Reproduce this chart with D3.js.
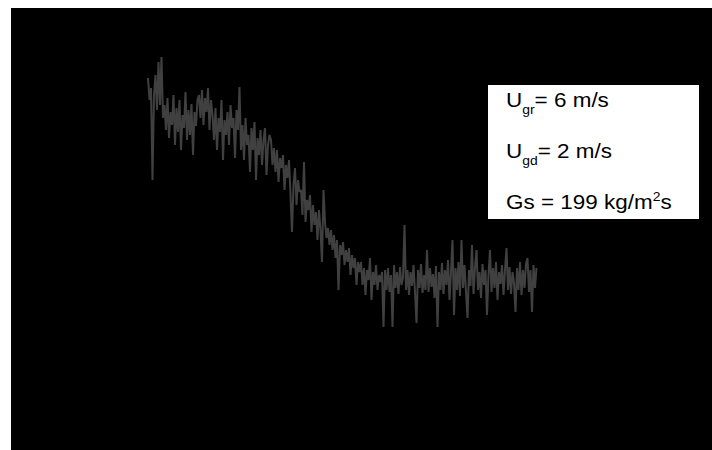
<!DOCTYPE html>
<html>
<head>
<meta charset="utf-8">
<script src="https://cdn.jsdelivr.net/npm/d3@7"></script>
<style>
  body { margin: 0; background: #fff; }
  text { font-family: "Liberation Sans", Arial, sans-serif; fill: #000; }
</style>
</head>
<body>
<script>
var w = 712;
var h = 450;

// signal (arbitrary units)
var signal = [
  352, 330, 342, 250, 335, 355, 320, 368, 325, 373, 312,
  325, 300, 332, 292, 318, 305, 335, 285, 322, 298, 330, 280, 315, 302, 338, 290, 320, 295, 326, 275, 318, 304, 330,
  335, 312, 340, 305, 332, 318, 342, 300, 330,
  315, 290, 322, 280, 312, 298, 330, 270, 310, 295, 318, 285, 325, 302, 312, 272, 320, 300, 343,
  280, 305, 270, 312, 285, 295, 258, 302, 280, 308, 250, 292, 275, 300, 265, 290, 302, 255, 285, 295,
  290, 265, 282, 258, 280, 248, 272, 262, 275, 240, 265, 252, 270, 235, 198, 245, 262, 225, 250, 238,
  240, 215, 268, 208, 230, 220, 235, 198, 225, 205, 218, 190, 220, 200, 168, 240, 208, 192, 202, 185,
  200, 180, 195, 172, 190, 140, 185, 175, 188, 165, 180, 168, 182, 155, 175, 162, 172, 145, 168, 158,
  168, 145, 162, 135, 160, 150, 172, 130, 158, 145, 165, 140, 155, 148,
  158, 103, 160, 140, 162, 138, 155, 103, 165, 142, 158, 136, 163, 145, 152, 205, 140, 160, 135, 158,
  144, 165, 138, 107, 160, 142, 166, 137, 155, 140, 180, 138, 162, 143, 156, 132, 164, 103, 158, 140,
  167, 136, 160, 145, 170, 130, 158, 190, 115, 162, 140, 168, 134, 190, 142, 165, 138, 112, 160, 144,
  185, 136, 162, 180, 140, 158, 132, 166, 145, 160, 115, 155, 180, 138, 162, 142, 168, 130, 158, 146,
  165, 135, 160, 182, 140, 163, 136, 158, 147, 118, 162, 140, 168, 135, 160, 142, 166, 172, 138, 160,
  118, 165, 142, 162
];

// text box lines
var labels = [
  { main: "U", sub: "gr", rest: "= 6 m/s" },
  { main: "U", sub: "gd", rest: "= 2 m/s" },
  { main: "Gs = 199 kg/m", sup: "2", rest: "s" }
];

var svg = d3.select("body").append("svg")
    .attr("width", w)
    .attr("height", h);

// black plot area
svg.append("rect")
    .attr("x", 11)
    .attr("y", 8)
    .attr("width", w - 11)
    .attr("height", h - 8)
    .attr("fill", "#000");

var x = d3.scaleLinear()
    .domain([0, signal.length - 1])
    .range([148, 536.5]);

var y = d3.scaleLinear()
    .domain([0, 400])
    .range([430, 30]);

var line = d3.line()
    .x(function(d, i) { return x(i); })
    .y(function(d) { return y(d); });

svg.append("path")
    .datum(signal)
    .attr("d", line)
    .attr("fill", "none")
    .attr("stroke", "#404040")
    .attr("stroke-width", 2)
    .attr("stroke-linejoin", "bevel");

// legend box
svg.append("rect")
    .attr("x", 488)
    .attr("y", 85)
    .attr("width", 211)
    .attr("height", 134)
    .attr("fill", "#fff");

var baselines = [107, 158, 209];

var g = svg.append("g")
    .attr("transform", "translate(506,0) scale(1.07,1)");

labels.forEach(function(l, i) {
  var t = g.append("text")
      .attr("x", 0)
      .attr("y", baselines[i])
      .style("font-size", "21px");
  t.append("tspan").text(l.main);
  if (l.sub) {
    t.append("tspan").text(l.sub).attr("dy", 7).style("font-size", "13px");
    t.append("tspan").text(l.rest).attr("dy", -7);
  } else {
    t.append("tspan").text(l.sup).attr("dy", -8).style("font-size", "13px");
    t.append("tspan").text(l.rest).attr("dy", 8);
  }
});
</script>
</body>
</html>
